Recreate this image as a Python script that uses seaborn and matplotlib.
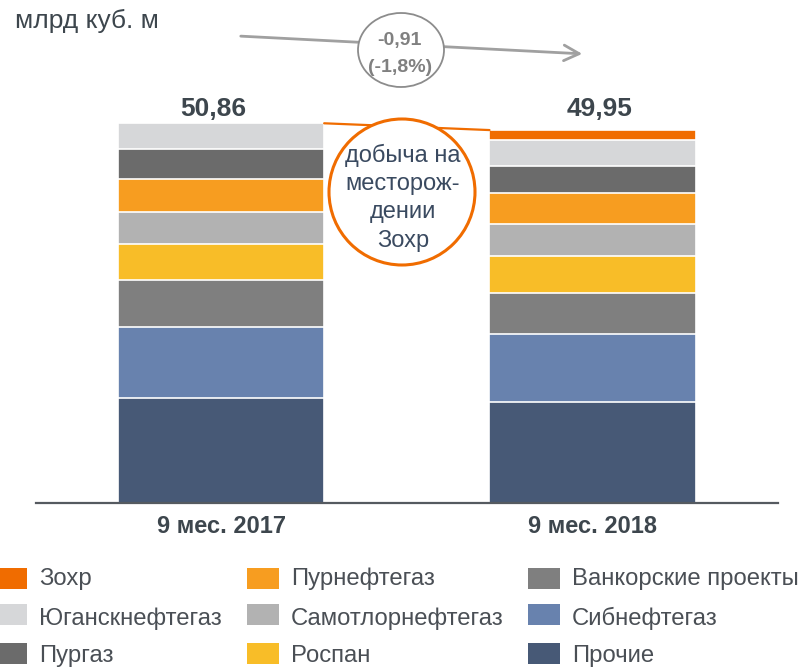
import numpy as np
import pandas as pd
import matplotlib
matplotlib.use("Agg")
import matplotlib.pyplot as plt
import seaborn as sns
from matplotlib.patches import Ellipse, Rectangle, FancyArrowPatch, ArrowStyle

# ---------------- data ----------------
periods = ['9 мес. 2017', '9 мес. 2018']
companies = ['Прочие', 'Сибнефтегаз', 'Ванкорские проекты', 'Роспан',
             'Самотлорнефтегаз', 'Пурнефтегаз', 'Пургаз', 'Юганскнефтегаз', 'Зохр']
colors = ['#475976', '#6882AE', '#7F7F7F', '#F8BD28',
          '#B2B2B2', '#F79D20', '#6B6B6B', '#D6D7D9', '#F06C00']
v2017 = [14.10, 9.43, 6.27, 4.83, 4.29, 4.52, 3.97, 3.45, 0.00]
v2018 = [13.46, 9.09, 5.55, 4.97, 4.35, 4.11, 3.59, 3.49, 1.34]
totals = [50.86, 49.95]
total_labels = ['50,86', '49,95']
change_abs = '-0,91'
change_pct = '(-1,8%)'
unit_label = 'млрд куб. м'
callout_lines = ['добыча на', 'месторож-', 'дении', 'Зохр']
legend_cols = [['Зохр', 'Юганскнефтегаз', 'Пургаз'],
               ['Пурнефтегаз', 'Самотлорнефтегаз', 'Роспан'],
               ['Ванкорские проекты', 'Сибнефтегаз', 'Прочие']]

# ---------------- style ----------------
sns.set_theme(style='white')
plt.rcParams['font.family'] = ['Liberation Sans', 'DejaVu Sans']
TXT = '#3d464d'

W, H = 801, 667
fig = plt.figure(figsize=(W / 100, H / 100), dpi=100)
fig.patch.set_facecolor('white')


def fx(x):
    return x / W


def fy(y):
    return 1 - y / H


base_y, top_y, ppu = 502.7, 22.7, 7.46
ax = fig.add_axes([36 / W, 1 - base_y / H, 742 / W, (base_y - top_y) / H])

df = pd.DataFrame({
    'period': np.repeat(periods, len(companies)),
    'company': companies * 2,
    'value': v2017 + v2018,
})
df['cum'] = df.groupby('period')['value'].cumsum()

bar_w = 0.555
for comp, col in reversed(list(zip(companies, colors))):
    sub = df[df['company'] == comp]
    sns.barplot(data=sub, x='period', y='cum', order=periods, color=col,
                saturation=1, width=bar_w, edgecolor='white', linewidth=1.2,
                errorbar=None, ax=ax)

ax.set_xlim(-0.498, 1.499)
ax.set_ylim(0, (base_y - top_y) / ppu)
ax.set_yticks([])
ax.set_xlabel('')
ax.set_ylabel('')
sns.despine(ax=ax, left=True)
ax.spines['bottom'].set_color('#555a60')
ax.spines['bottom'].set_linewidth(1.6)
ax.tick_params(axis='x', length=0, pad=8.5, labelsize=17, labelcolor=TXT)
for lbl in ax.get_xticklabels():
    lbl.set_fontweight('bold')

# totals
offs = [-0.0215, 0.02]
for i, (t, lab) in enumerate(zip(totals, total_labels)):
    ax.text(i + offs[i], (base_y - 116) / ppu, lab, ha='center', va='baseline',
            fontsize=19, fontweight='bold', color=TXT)

# orange connector between bar tops
ax.plot([0 + bar_w / 2, 1 - bar_w / 2], [totals[0], totals[1]],
        color='#F06C00', lw=1.6, zorder=5, clip_on=False)

# orange callout circle
fig.add_artist(Ellipse((fx(402), fy(192)), 146 / W, 146 / H,
                       transform=fig.transFigure, facecolor='white',
                       edgecolor='#F06C00', lw=2.2, zorder=3))
for line, by in zip(callout_lines, [162, 190, 218, 246.5]):
    fig.text(fx(403), fy(by), line, ha='center', va='baseline', fontsize=17,
             color='#3a4a60', zorder=4)

# change arrow + ellipse
fig.add_artist(FancyArrowPatch((fx(238), fy(36)), (fx(585), fy(54)),
                               transform=fig.transFigure,
                               arrowstyle=ArrowStyle('->', head_length=0.55, head_width=0.28),
                               mutation_scale=20, color='#A0A0A0', lw=2.0, zorder=2))
fig.add_artist(Ellipse((fx(401), fy(50)), 86 / W, 74 / H,
                       transform=fig.transFigure, facecolor='white',
                       edgecolor='#8c8c8c', lw=1.3, zorder=3))
fig.text(fx(399.5), fy(45), change_abs, ha='center', va='baseline', fontsize=14,
         fontweight='bold', color='#808080', zorder=4)
fig.text(fx(400), fy(71.5), change_pct, ha='center', va='baseline', fontsize=14,
         fontweight='bold', color='#808080', zorder=4)

# unit label
fig.text(fx(15), fy(28), unit_label, ha='left', va='baseline', fontsize=19, color=TXT)

# legend
color_of = dict(zip(companies, colors))
sq_right = [27, 279, 560]
row_tops = [567.5, 604, 643]
row_base = [585.5, 625, 662]
for c, col_items in enumerate(legend_cols):
    for r, name in enumerate(col_items):
        fig.add_artist(Rectangle((fx(sq_right[c] - 32), fy(row_tops[r] + 21)), 32 / W, 21 / H,
                                 transform=fig.transFigure, facecolor=color_of[name],
                                 edgecolor='none', zorder=3))
        fig.text(fx(sq_right[c] + 12), fy(row_base[r]), name, ha='left', va='baseline',
                 fontsize=17.2, color='#4a4f55', zorder=4)

fig.savefig('out.png', dpi=100, facecolor='white')
